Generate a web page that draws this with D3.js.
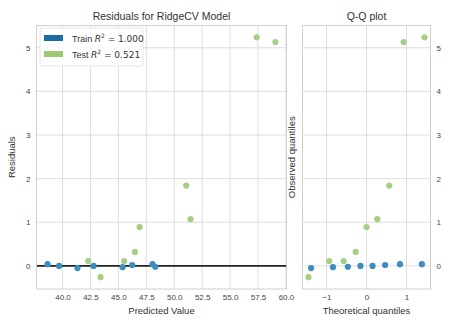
<!DOCTYPE html>
<html>
<head>
<meta charset="utf-8">
<script src="https://cdn.jsdelivr.net/npm/d3@7"></script>
<style>
  html, body { margin: 0; padding: 0; background: #ffffff; }
  svg { display: block; font-family: "Liberation Sans", Arial, sans-serif; }
  .tick text { fill: #444; font-size: 8px; }
</style>
</head>
<body>
<svg id="chart" width="459" height="325"></svg>
<script>
// Ridge residuals: predicted value vs residual for train and test splits
const trainPredicted = [38.66, 39.70, 41.34, 42.78, 45.38, 46.24, 48.06, 48.30];
const trainResidual  = [0.04, 0.00, -0.05, 0.00, -0.03, 0.02, 0.04, -0.02];
const testPredicted  = [42.30, 43.40, 45.52, 46.48, 46.90, 51.07, 51.46, 57.38, 59.05];
const testResidual   = [0.11, -0.26, 0.11, 0.32, 0.89, 1.84, 1.07, 5.24, 5.13];

// Theoretical normal quantiles used for the Q-Q panel
const trainTheoretical = [-1.385, -0.838, -0.466, -0.151, 0.151, 0.466, 0.838, 1.385];
const testTheoretical  = [-1.45, -0.93, -0.57, -0.27, 0.00, 0.27, 0.57, 0.93, 1.45];

const xTicks  = [40, 42.5, 45, 47.5, 50, 52.5, 55, 57.5, 60];
const yTicks  = [0, 1, 2, 3, 4, 5];
const qqTicks = [-1, 0, 1];

const legendItems = [
  { name: "Train", r2: "1.000", color: "#1b6ca6" },
  { name: "Test",  r2: "0.521", color: "#9ec874" }
];

const trainColor = "#3a8fbf";
const testColor  = "#a6cf86";
const gridColor  = "#dedede";
const spineColor = "#cfcfcf";
const textColor  = "#333";

const svg = d3.select("#chart");

const main = { left: 36.5, right: 286.5, top: 25.5, bottom: 289 };
const qq   = { left: 302.5, right: 430.5, top: 25.5, bottom: 289 };

const x  = d3.scaleLinear().domain([37.67, 60.05]).range([main.left, main.right]);
const y  = d3.scaleLinear().domain([-0.53, 5.51]).range([main.bottom, main.top]);
const xq = d3.scaleLinear().domain([-1.6, 1.6]).range([qq.left, qq.right]);

function frame(b) {
  svg.append("rect")
    .attr("x", b.left).attr("y", b.top)
    .attr("width", b.right - b.left).attr("height", b.bottom - b.top)
    .attr("fill", "#ffffff");
}
frame(main);
frame(qq);

// Gridlines
function grid(g, b, xs, xT) {
  g.selectAll("line.gx").data(xT).join("line")
    .attr("x1", d => xs(d)).attr("x2", d => xs(d))
    .attr("y1", b.top).attr("y2", b.bottom)
    .attr("stroke", gridColor).attr("stroke-width", 1);
  g.selectAll("line.gy").data(yTicks).join("line")
    .attr("class", "gy")
    .attr("x1", b.left).attr("x2", b.right)
    .attr("y1", d => y(d)).attr("y2", d => y(d))
    .attr("stroke", gridColor).attr("stroke-width", 1);
}
grid(svg.append("g"), main, x, xTicks);
grid(svg.append("g"), qq, xq, qqTicks);

// Axes
const xAxis = d3.axisBottom(x).tickValues(xTicks).tickFormat(d3.format(".1f")).tickSize(0).tickPadding(5);
svg.append("g").attr("transform", `translate(0,${main.bottom})`).call(xAxis)
  .call(g => g.select(".domain").remove());

const yAxis = d3.axisLeft(y).tickValues(yTicks).tickFormat(d3.format("d")).tickSize(0).tickPadding(6);
svg.append("g").attr("transform", `translate(${main.left},0)`).call(yAxis)
  .call(g => g.select(".domain").remove());

const xqAxis = d3.axisBottom(xq).tickValues(qqTicks).tickFormat(d => d < 0 ? "\u2212" + Math.abs(d) : d).tickSize(0).tickPadding(5);
svg.append("g").attr("transform", `translate(0,${qq.bottom})`).call(xqAxis)
  .call(g => g.select(".domain").remove());

const yqAxis = d3.axisRight(y).tickValues(yTicks).tickFormat(d3.format("d")).tickSize(0).tickPadding(6);
svg.append("g").attr("transform", `translate(${qq.right},0)`).call(yqAxis)
  .call(g => g.select(".domain").remove());

// Zero reference line
svg.append("line")
  .attr("x1", main.left).attr("x2", main.right)
  .attr("y1", y(0)).attr("y2", y(0))
  .attr("stroke", "#222").attr("stroke-width", 1.6);

// Points
function dots(xs, xv, yv, color) {
  svg.append("g").selectAll("circle").data(xv).join("circle")
    .attr("cx", d => xs(d)).attr("cy", (d, i) => y(yv[i]))
    .attr("r", 3.1).attr("fill", color);
}
dots(x, trainPredicted, trainResidual, trainColor);
dots(x, testPredicted, testResidual, testColor);

const trainSorted = trainResidual.slice().sort(d3.ascending);
const testSorted = testResidual.slice().sort(d3.ascending);
dots(xq, testTheoretical, testSorted, testColor);
dots(xq, trainTheoretical, trainSorted, trainColor);

// Spines
function spines(b) {
  svg.append("rect")
    .attr("x", b.left).attr("y", b.top)
    .attr("width", b.right - b.left).attr("height", b.bottom - b.top)
    .attr("fill", "none").attr("stroke", spineColor).attr("stroke-width", 1);
}
spines(main);
spines(qq);

// Titles and labels
svg.append("text").attr("x", (main.left + main.right) / 2).attr("y", 20)
  .attr("text-anchor", "middle").attr("font-size", 10.5).attr("fill", textColor)
  .text("Residuals for RidgeCV Model");
svg.append("text").attr("x", (qq.left + qq.right) / 2).attr("y", 20)
  .attr("text-anchor", "middle").attr("font-size", 10.5).attr("fill", textColor)
  .text("Q-Q plot");
svg.append("text").attr("x", (main.left + main.right) / 2).attr("y", 314)
  .attr("text-anchor", "middle").attr("font-size", 9.5).attr("fill", textColor)
  .text("Predicted Value");
svg.append("text").attr("x", (qq.left + qq.right) / 2).attr("y", 314)
  .attr("text-anchor", "middle").attr("font-size", 9.5).attr("fill", textColor)
  .text("Theoretical quantiles");
svg.append("text")
  .attr("transform", `translate(15,${(main.top + main.bottom) / 2}) rotate(-90)`)
  .attr("text-anchor", "middle").attr("font-size", 9.5).attr("fill", textColor)
  .text("Residuals");
svg.append("text")
  .attr("transform", `translate(295,${(qq.top + qq.bottom) / 2}) rotate(-90)`)
  .attr("text-anchor", "middle").attr("font-size", 9.5).attr("fill", textColor)
  .text("Observed quantiles");

// Legend
const lg = svg.append("g").attr("transform", "translate(40,28)");
lg.append("rect").attr("width", 103).attr("height", 38).attr("rx", 2)
  .attr("fill", "#ffffff").attr("fill-opacity", 0.85)
  .attr("stroke", "#e4e4e4").attr("stroke-width", 1);
legendItems.forEach((d, i) => {
  const row = lg.append("g").attr("transform", `translate(4,${10 + i * 16})`);
  row.append("rect").attr("x", 0).attr("y", -3).attr("width", 19).attr("height", 6).attr("fill", d.color);
  const t = row.append("text").attr("x", 28).attr("y", 3.5).attr("font-size", 9).attr("fill", textColor);
  t.append("tspan").text(d.name + " ");
  t.append("tspan").attr("font-family", "DejaVu Sans").attr("font-style", "italic").text("R");
  t.append("tspan").attr("font-family", "DejaVu Sans").attr("font-size", 6).attr("dy", -4).text("2");
  t.append("tspan").attr("font-family", "DejaVu Sans").attr("dy", 4).text(" = " + d.r2);
});
</script>
</body>
</html>
